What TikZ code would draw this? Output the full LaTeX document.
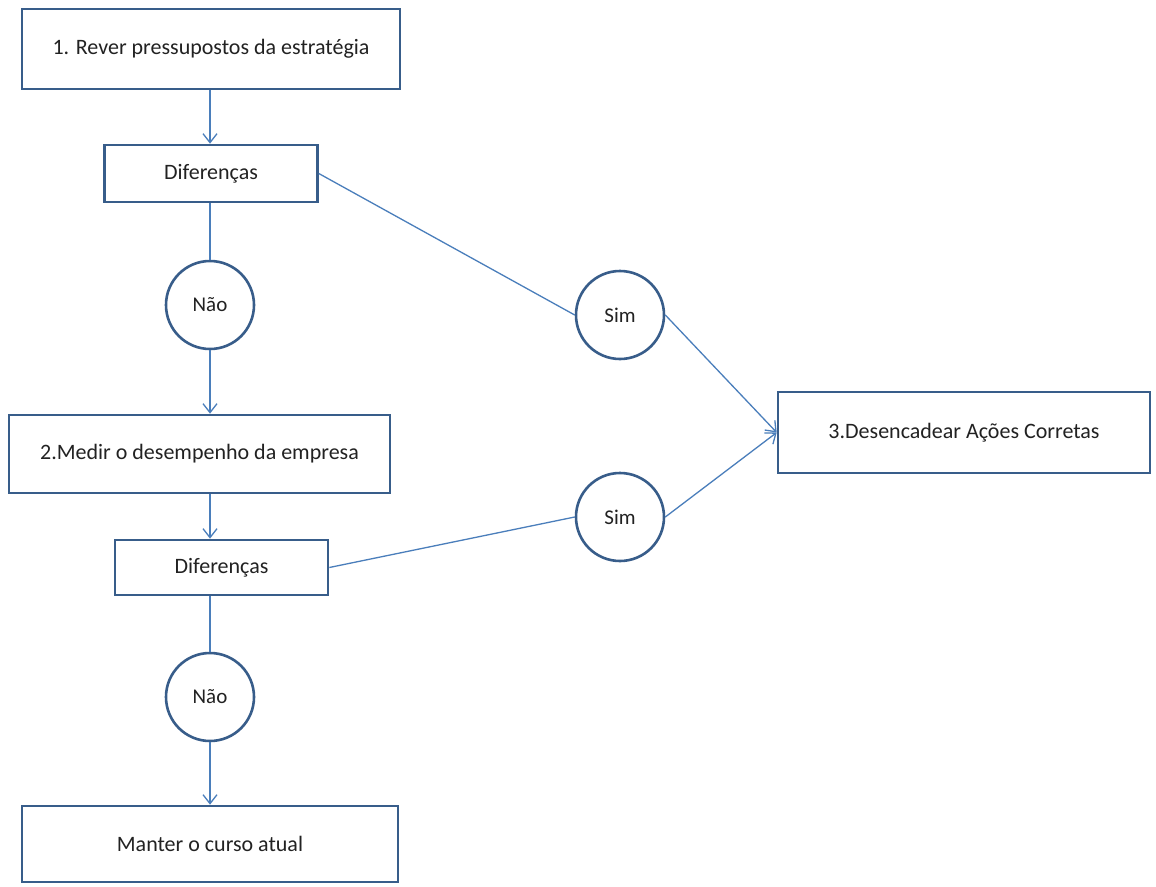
\documentclass[tikz,border=0pt]{standalone}
\usepackage{fontspec}
\setmainfont{Carlito}
\usetikzlibrary{arrows.meta}
\definecolor{edgeblue}{HTML}{385D8A}
\definecolor{linkblue}{HTML}{4A7EBB}
\definecolor{ink}{HTML}{222222}
\begin{document}
\begin{tikzpicture}[x=1pt,y=-1pt,
  stepbox/.style={rectangle, draw=edgeblue, line width=2.6pt, fill=white,
    inner sep=0pt, text=ink, font=\fontsize{22}{26}\selectfont},
  choice/.style={circle, draw=edgeblue, line width=2.6pt, fill=white,
    minimum size=88pt, inner sep=0pt, text=ink, font=\fontsize{21}{25}\selectfont},
  link/.style={draw=linkblue, line width=1.3pt},
  flow/.style={link, -{Straight Barb[length=9pt,width=14pt]}}]
  % page frame
  \useasboundingbox[fill=white] (0,0) rectangle (1156,886);

  % left column: review, compare, measure, compare, keep course
  \node[stepbox, minimum width=378pt, minimum height=80pt] (s1) at (211,49)
    {1. Rever pressupostos da estratégia};
  \node[stepbox, minimum width=213pt, minimum height=57pt] (d1) at (211,173.5)
    {Diferenças};
  \node[choice] (n1) at (210,305) {Não};
  \node[stepbox, minimum width=381pt, minimum height=78pt] (s2) at (199.5,454)
    {2.Medir o desempenho da empresa};
  \node[stepbox, minimum width=213pt, minimum height=55pt] (d2) at (221.5,567.5)
    {Diferenças};
  \node[choice] (n2) at (210,697) {Não};
  \node[stepbox, minimum width=376pt, minimum height=76pt] (s4) at (210,844)
    {Manter o curso atual};

  % right branch: differences found
  \node[choice] (y1) at (620,315) {Sim};
  \node[choice] (y2) at (620,517) {Sim};
  \node[stepbox, minimum width=372pt, minimum height=81pt] (s3) at (964,432.5)
    {3.Desencadear Ações Corretas};

  % vertical flow
  \draw[flow] (s1.south -| n1) -- (d1.north -| n1);
  \draw[link] (d1.south -| n1) -- (n1.north);
  \draw[flow] (n1.south) -- (s2.north -| n1);
  \draw[flow] (s2.south -| n1) -- (d2.north -| n1);
  \draw[link] (d2.south -| n1) -- (n2.north);
  \draw[flow] (n2.south) -- (s4.north -| n1);

  % branches to corrective actions
  \draw[link] (d1.east) -- (y1.west);
  \draw[link] (d2.east) -- (y2.west);
  \draw[flow] (y1.east) -- (s3.west);
  \draw[flow] (y2.east) -- (s3.west);
\end{tikzpicture}
\end{document}
